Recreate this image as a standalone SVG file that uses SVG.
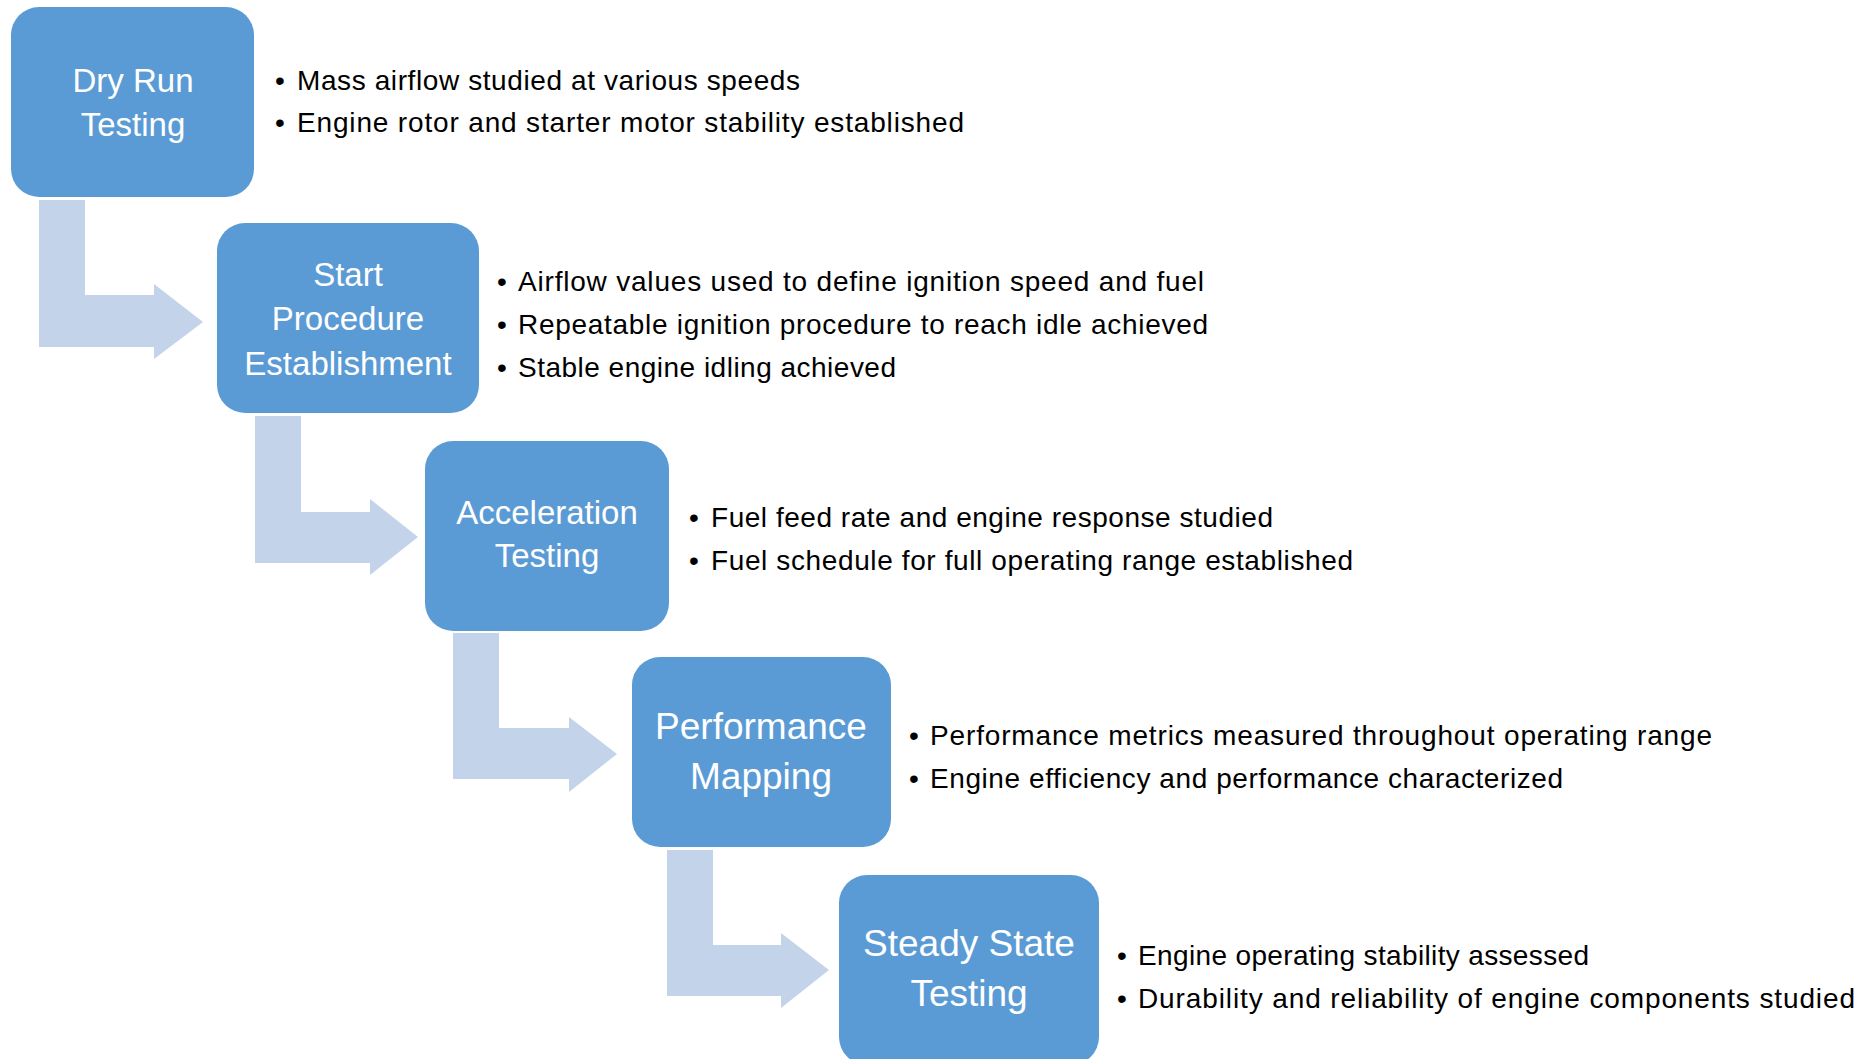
<svg xmlns="http://www.w3.org/2000/svg" width="1872" height="1059" viewBox="0 0 1872 1059">
<style>
.box{fill:#5B9BD5}
.arr{fill:#C3D4EA}
.lbl{font-family:"Liberation Sans",Arial,sans-serif;fill:#FFFFFF;text-anchor:middle;font-size:33px}
.lbl2{font-family:"Liberation Sans",Arial,sans-serif;fill:#FFFFFF;text-anchor:middle;font-size:37px}
.bul{font-family:"Liberation Sans",Arial,sans-serif;fill:#000000;font-size:28px}
.dot{font-family:"Liberation Sans",Arial,sans-serif;fill:#000000;font-size:28px;text-anchor:middle}
</style>
<rect x="0" y="0" width="1872" height="1059" fill="#FFFFFF"/>
<g id="connectors">
<path class="arr" d="M39,200 H85 V295 H154 V284 L203,322 L154,359 V347 H39 Z"/>
<path class="arr" d="M255,416 H301 V512 H370 V499 L418,537 L370,575 V563 H255 Z"/>
<path class="arr" d="M453,633 H499 V728 H569 V717 L617,754 L569,792 V779 H453 Z"/>
<path class="arr" d="M667,850 H713 V945 H781 V933 L829,970 L781,1008 V996 H667 Z"/>
</g>
<g id="node1">
<rect class="box" x="11" y="7" width="243" height="190" rx="28"/>
<text class="lbl" x="133" y="92">Dry Run</text>
<text class="lbl" x="133" y="136">Testing</text>
<text class="dot" x="280" y="90">•</text>
<text class="bul" x="297" y="90" textLength="503">Mass airflow studied at various speeds</text>
<text class="dot" x="280" y="132">•</text>
<text class="bul" x="297" y="132" textLength="667">Engine rotor and starter motor stability established</text>
</g>
<g id="node2">
<rect class="box" x="217" y="223" width="262" height="190" rx="28"/>
<text class="lbl" x="348" y="286">Start</text>
<text class="lbl" x="348" y="330">Procedure</text>
<text class="lbl" x="348" y="375">Establishment</text>
<text class="dot" x="502" y="291">•</text>
<text class="bul" x="518" y="291" textLength="686">Airflow values used to define ignition speed and fuel</text>
<text class="dot" x="502" y="334">•</text>
<text class="bul" x="518" y="334" textLength="690">Repeatable ignition procedure to reach idle achieved</text>
<text class="dot" x="502" y="377">•</text>
<text class="bul" x="518" y="377" textLength="378">Stable engine idling achieved</text>
</g>
<g id="node3">
<rect class="box" x="425" y="441" width="244" height="190" rx="28"/>
<text class="lbl" x="547" y="524">Acceleration</text>
<text class="lbl" x="547" y="567">Testing</text>
<text class="dot" x="694" y="527">•</text>
<text class="bul" x="711" y="527" textLength="562">Fuel feed rate and engine response studied</text>
<text class="dot" x="694" y="570">•</text>
<text class="bul" x="711" y="570" textLength="642">Fuel schedule for full operating range established</text>
</g>
<g id="node4">
<rect class="box" x="632" y="657" width="259" height="190" rx="28"/>
<text class="lbl2" x="761" y="739">Performance</text>
<text class="lbl2" x="761" y="789">Mapping</text>
<text class="dot" x="914" y="745">•</text>
<text class="bul" x="930" y="745" textLength="782">Performance metrics measured throughout operating range</text>
<text class="dot" x="914" y="788">•</text>
<text class="bul" x="930" y="788" textLength="633">Engine efficiency and performance characterized</text>
</g>
<g id="node5">
<rect class="box" x="839" y="875" width="260" height="190" rx="28"/>
<text class="lbl2" x="969" y="956">Steady State</text>
<text class="lbl2" x="969" y="1006">Testing</text>
<text class="dot" x="1122" y="965">•</text>
<text class="bul" x="1138" y="965" textLength="451">Engine operating stability assessed</text>
<text class="dot" x="1122" y="1008">•</text>
<text class="bul" x="1138" y="1008" textLength="717">Durability and reliability of engine components studied</text>
</g>
</svg>
